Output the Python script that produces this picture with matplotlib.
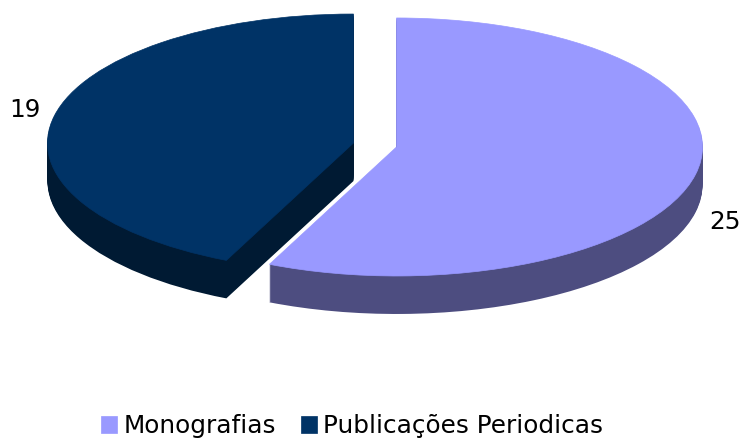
import matplotlib
matplotlib.use('Agg')
import matplotlib.pyplot as plt

labels = ['Monografias', 'Publicações Periodicas']
values = [25, 19]
top_colors = ['#9999FF', '#003366']
side_colors = ['#4D4D80', '#001A33']

W, H = 744, 442
cx, cy = 375, 145
rx, ry = 306, 129
depth = 38
explode = [0.072, 0.072]

fig = plt.figure(figsize=(W / 100, H / 100), dpi=100)
ax = fig.add_axes([0, 0, 1, 1])

# side walls: stack of darker pies going up to the top face
for d in range(depth, 0, -1):
    ax.pie(values, colors=side_colors, startangle=90, counterclock=False,
           explode=explode, center=(0, -d / ry), radius=1, frame=False)

wedges, _ = ax.pie(values, colors=top_colors, startangle=90, counterclock=False,
                   explode=explode, center=(0, 0), radius=1, frame=False)
# hides the seam of the walls underneath
for w, c in zip(wedges, top_colors):
    w.set_edgecolor(c)
    w.set_linewidth(0.5)

ax.set_aspect('auto')
ax.set_xlim(-cx / rx, (W - cx) / rx)
ax.set_ylim(-(H - cy) / ry, cy / ry)
ax.axis('off')

ax.text((725 - cx) / rx, (cy - 222) / ry, str(values[0]), fontsize=17.8,
        ha='center', va='center', color='black')
ax.text((25 - cx) / rx, (cy - 110) / ry, str(values[1]), fontsize=17.8,
        ha='center', va='center', color='black')

leg = ax.legend(wedges, labels, loc='center', bbox_to_anchor=(352 / W, 1 - 426 / H),
                ncol=2, frameon=False, fontsize=17.8, handlelength=0.65, handleheight=0.65,
                handletextpad=0.24, columnspacing=1.0, borderpad=0, borderaxespad=0)

fig.savefig('out.png', dpi=100)
